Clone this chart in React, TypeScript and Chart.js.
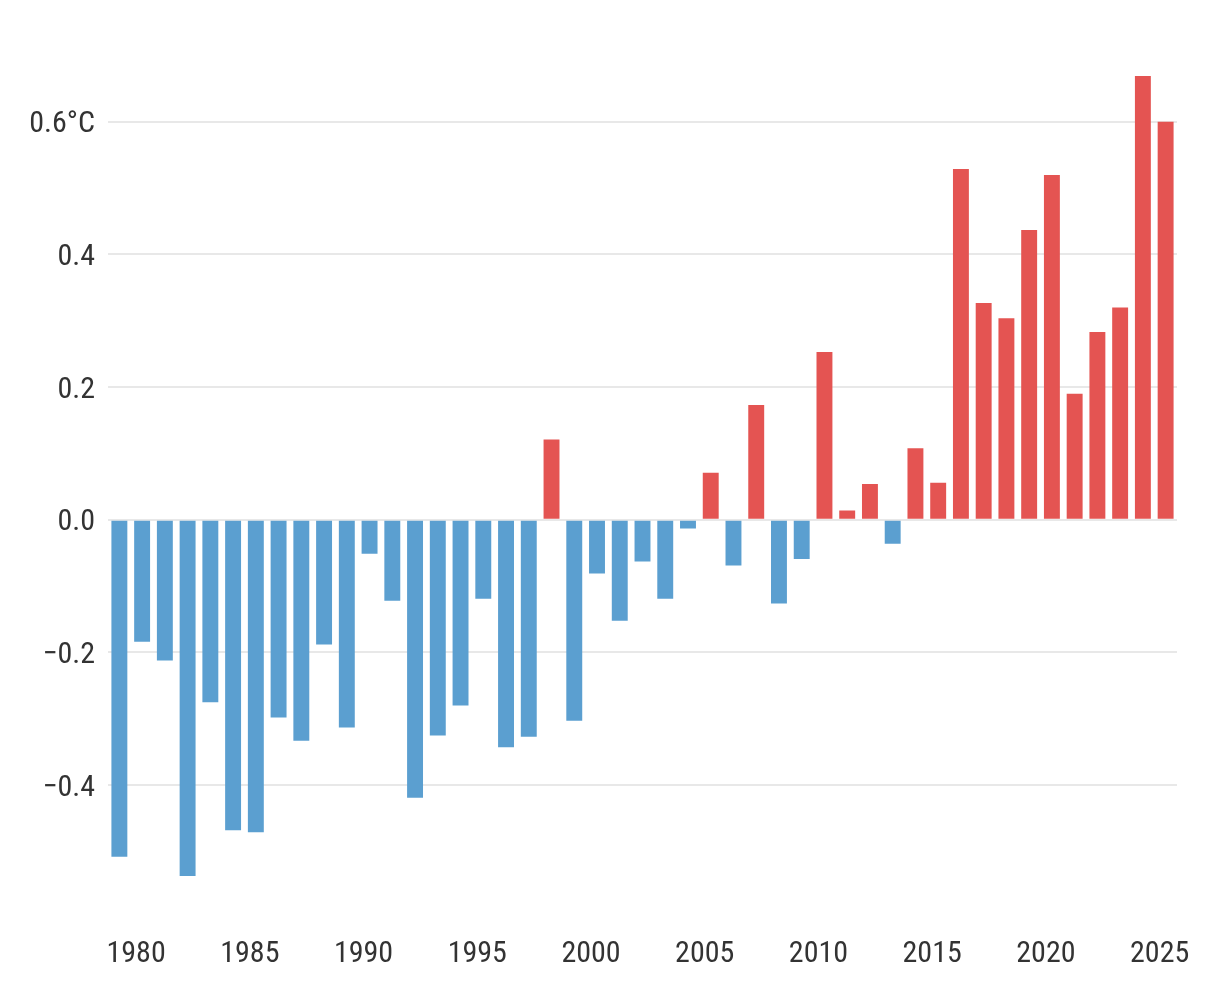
import React, { useEffect, useRef } from "react";
import { Chart, registerables } from "chart.js";

Chart.register(...registerables);

const years: number[] = [
  1979, 1980, 1981, 1982, 1983, 1984, 1985, 1986, 1987, 1988,
  1989, 1990, 1991, 1992, 1993, 1994, 1995, 1996, 1997, 1998,
  1999, 2000, 2001, 2002, 2003, 2004, 2005, 2006, 2007, 2008,
  2009, 2010, 2011, 2012, 2013, 2014, 2015, 2016, 2017, 2018,
  2019, 2020, 2021, 2022, 2023, 2024, 2025,
];

const anomalies: number[] = [
  -0.508, -0.184, -0.212, -0.537, -0.275, -0.468, -0.471, -0.298, -0.333, -0.188,
  -0.313, -0.051, -0.122, -0.419, -0.325, -0.280, -0.119, -0.343, -0.327, 0.121,
  -0.303, -0.081, -0.152, -0.063, -0.119, -0.013, 0.071, -0.069, 0.173, -0.126,
  -0.059, 0.253, 0.014, 0.054, -0.036, 0.108, 0.056, 0.529, 0.327, 0.304,
  0.437, 0.520, 0.190, 0.283, 0.320, 0.669, 0.600,
];

const yTickValues: number[] = [-0.4, -0.2, 0, 0.2, 0.4, 0.6];

const WARM = "#e45452";
const COOL = "#5b9fd0";
const FONT = "'Roboto Condensed', 'Liberation Sans Narrow', 'Roboto', sans-serif";

export default function App() {
  const ref = useRef<HTMLCanvasElement | null>(null);

  useEffect(() => {
    if (!ref.current) return;
    const chart = new Chart(ref.current, {
      type: "bar",
      data: {
        labels: years.map(String),
        datasets: [
          {
            data: anomalies,
            backgroundColor: anomalies.map((v) => (v >= 0 ? WARM : COOL)),
            borderWidth: 0,
            categoryPercentage: 1,
            barPercentage: 0.7,
          },
        ],
      },
      options: {
        animation: false,
        responsive: false,
        layout: { padding: { left: 0, right: 43, top: 55.5, bottom: 0 } },
        plugins: { legend: { display: false }, tooltip: { enabled: false } },
        scales: {
          x: {
            offset: true,
            grid: { display: false, drawTicks: false },
            border: { display: false },
            ticks: {
              autoSkip: false,
              maxRotation: 0,
              minRotation: 0,
              padding: 19,
              labelOffset: -6,
              color: "#333333",
              font: { family: FONT, size: 30 },
              callback: (_v: any, i: number) => (years[i] % 5 === 0 ? String(years[i]) : ""),
            },
            afterFit: (s: any) => {
              s.height = 90.2;
            },
          },
          y: {
            min: -0.6,
            max: 0.7,
            grid: { color: "#e8e8e8", lineWidth: 2, drawTicks: false },
            border: { display: false },
            ticks: {
              padding: 13,
              labelOffset: 3,
              color: "#333333",
              font: { family: FONT, size: 30 },
              callback: (v: any) => {
                const n = Number(v);
                const s = Math.abs(n).toFixed(1);
                if (Math.abs(n - 0.6) < 1e-6) return "0.6°C";
                return n < -1e-9 ? "\u2212" + s : s;
              },
            },
            afterBuildTicks: (s: any) => {
              s.ticks = yTickValues.map((v) => ({ value: v }));
            },
            afterFit: (s: any) => {
              s.width = 108;
            },
          },
        },
      },
    });
    return () => chart.destroy();
  }, []);

  return (
    <div style={{ position: "absolute", left: 0, top: 0, width: 1220, height: 1008, background: "#fff" }}>
      <canvas ref={ref} width={1220} height={1008} style={{ display: "block" }} />
    </div>
  );
}
